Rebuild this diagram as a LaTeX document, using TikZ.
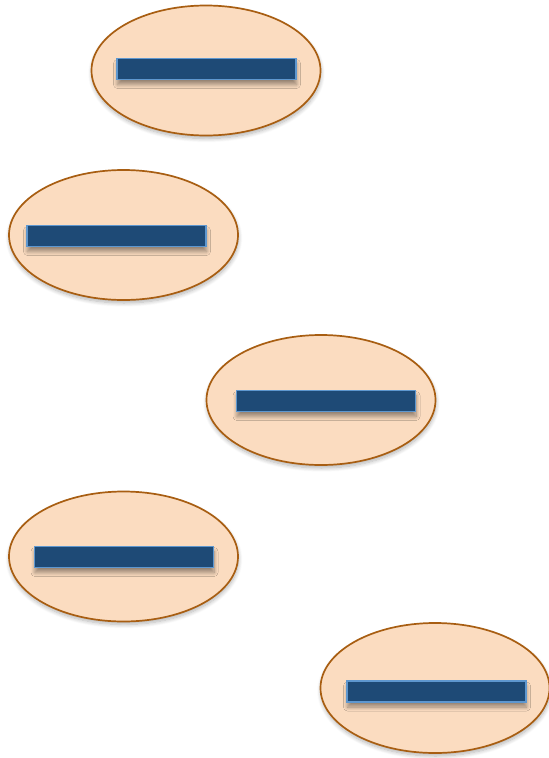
\documentclass[tikz,border=0pt]{standalone}
\usetikzlibrary{shapes.geometric,shadows.blur}
\definecolor{peach}{HTML}{FBDCC0}
\definecolor{rim}{HTML}{A85E12}
\definecolor{barblue}{HTML}{1E4A76}
\definecolor{barrim}{HTML}{5E97CF}
\tikzset{
  blob/.style={ellipse, draw=rim, line width=1.7pt, fill=peach, minimum width=229pt, minimum height=130pt, inner sep=0pt,
    blur shadow={shadow xshift=0.5pt, shadow yshift=-3pt, shadow blur steps=8, shadow opacity=30, shadow blur radius=4pt}},
  bar/.style={rectangle, draw=barrim, line width=1.2pt, fill=barblue, minimum width=179pt, minimum height=21pt, inner sep=0pt,
    blur shadow={shadow xshift=0.5pt, shadow yshift=-5pt, shadow blur steps=8, shadow opacity=40, shadow blur radius=4pt}},
}
\begin{document}
\begin{tikzpicture}[x=1pt,y=-1pt]
\useasboundingbox (0,0) rectangle (549,758);
\node[blob] (e1) at (206,70.5) {};
\node[bar] (b1) at (206.5,69) {};
\node[blob] (e2) at (123.5,235) {};
\node[bar] (b2) at (116.5,236) {};
\node[blob] (e3) at (321,400) {};
\node[bar] (b3) at (326,401) {};
\node[blob] (e4) at (123.5,556.5) {};
\node[bar] (b4) at (124,557) {};
\node[blob] (e5) at (435,688) {};
\node[bar] (b5) at (436.5,691.5) {};
\end{tikzpicture}
\end{document}
